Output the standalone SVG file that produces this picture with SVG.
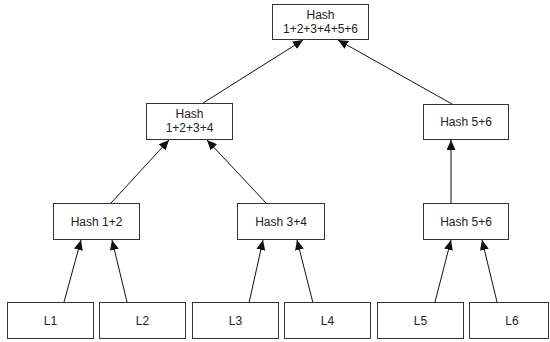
<svg xmlns="http://www.w3.org/2000/svg" width="550" height="342" viewBox="0 0 550 342">
<style>
.box{fill:#fff;stroke:#333;stroke-width:1}
.t{font-family:"Liberation Sans",Arial,sans-serif;font-size:12px;fill:#222;text-anchor:middle}
.c{stroke:#111;stroke-width:1;fill:none;marker-end:url(#ah)}
</style>
<defs>
<marker id="ah" markerUnits="userSpaceOnUse" markerWidth="11" markerHeight="9" refX="10" refY="4.5" orient="auto">
<path d="M0,0 L10,4.5 L0,9 z" fill="#111"/>
</marker>
</defs>
<rect width="550" height="342" fill="#fff"/>
<g id="connectors">
<line class="c" x1="64" y1="302" x2="81" y2="240"/>
<line class="c" x1="127" y1="302" x2="112" y2="240"/>
<line class="c" x1="249" y1="303" x2="263" y2="240"/>
<line class="c" x1="313" y1="303" x2="297" y2="240"/>
<line class="c" x1="435" y1="302" x2="451" y2="240"/>
<line class="c" x1="497" y1="302" x2="482" y2="240"/>
<line class="c" x1="111" y1="203" x2="169" y2="140"/>
<line class="c" x1="267" y1="204" x2="207" y2="140"/>
<line class="c" x1="451" y1="203" x2="451" y2="140"/>
<line class="c" x1="203" y1="103" x2="303" y2="40"/>
<line class="c" x1="452" y1="104" x2="338" y2="40"/>
</g>
<g id="root"><rect class="box" x="272.5" y="4.5" width="96" height="35"/><text class="t" x="320.5" y="19">Hash</text><text class="t" x="320.5" y="33">1+2+3+4+5+6</text></g>
<g id="h1234"><rect class="box" x="146.5" y="103.5" width="86" height="36"/><text class="t" x="189.5" y="118">Hash</text><text class="t" x="189.5" y="132">1+2+3+4</text></g>
<g id="h56a"><rect class="box" x="423.5" y="104.5" width="85" height="35"/><text class="t" x="466" y="126">Hash 5+6</text></g>
<g id="h12"><rect class="box" x="53.5" y="203.5" width="86" height="36"/><text class="t" x="96.5" y="226">Hash 1+2</text></g>
<g id="h34"><rect class="box" x="237.5" y="203.5" width="87" height="36"/><text class="t" x="281" y="226">Hash 3+4</text></g>
<g id="h56b"><rect class="box" x="423.5" y="203.5" width="85" height="36"/><text class="t" x="466" y="226">Hash 5+6</text></g>
<g id="l1"><rect class="box" x="7.5" y="302.5" width="86" height="36"/><text class="t" x="50.5" y="325">L1</text></g>
<g id="l2"><rect class="box" x="99.5" y="302.5" width="86" height="36"/><text class="t" x="142.5" y="325">L2</text></g>
<g id="l3"><rect class="box" x="192.5" y="302.5" width="86" height="36"/><text class="t" x="235.5" y="325">L3</text></g>
<g id="l4"><rect class="box" x="284.5" y="302.5" width="86" height="36"/><text class="t" x="327.5" y="325">L4</text></g>
<g id="l5"><rect class="box" x="377.5" y="302.5" width="86" height="36"/><text class="t" x="420.5" y="325">L5</text></g>
<g id="l6"><rect class="box" x="469.5" y="302.5" width="79" height="36"/><text class="t" x="512" y="325">L6</text></g>
</svg>
